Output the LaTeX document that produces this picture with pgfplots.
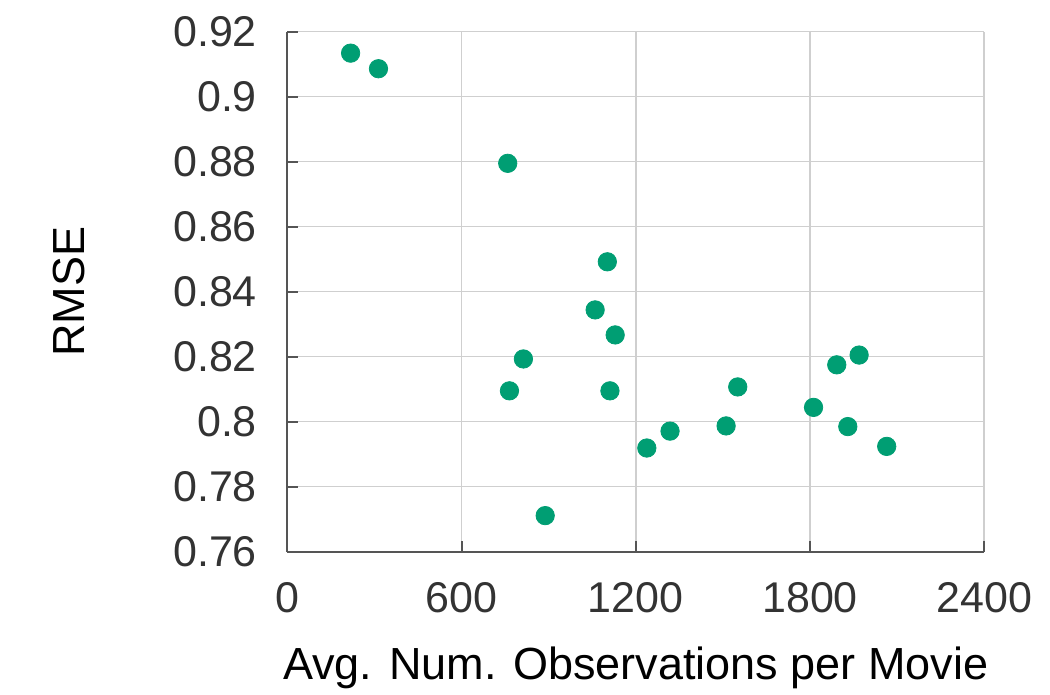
\documentclass[border=0pt]{standalone}
\usepackage{pgfplots}
\pgfplotsset{compat=1.18}
\usepackage{fontspec}
\setmainfont{Liberation Sans}
\definecolor{ptgreen}{HTML}{009E73}
\definecolor{gridgray}{HTML}{CFCFCF}
\definecolor{axgray}{HTML}{555555}
\begin{document}
\begin{tikzpicture}
\useasboundingbox (-143.65pt,-71.65pt) rectangle (381.35pt,275.85pt);
\begin{axis}[
  at={(0,0)}, anchor=south west,
  scale only axis,
  width=348.5pt, height=260pt,
  xmin=0, xmax=2400, ymin=0.76, ymax=0.92,
  xtick={0,600,1200,1800,2400},
  ytick={0.76,0.78,0.80,0.82,0.84,0.86,0.88,0.90,0.92},
  scaled ticks=false,
  /pgf/number format/1000 sep={},
  /pgf/number format/assume math mode=true,
  axis lines=left,
  axis line style={-, draw=axgray, line width=1pt},
  tick align=inside,
  major tick length=5.5pt,
  tick style={draw=axgray, line width=1pt},
  grid=major,
  major grid style={draw=gridgray, line width=0.8pt},
  ticklabel style={font=\fontsize{21.5}{25}\selectfont, text=black!80},
  yticklabel style={anchor=east, inner sep=0pt, xshift=-15pt},
  xticklabel style={anchor=north, inner sep=0pt, yshift=-15pt},
  label style={font=\fontsize{22.5}{26}\selectfont},
  xlabel={Avg. Num. Observations per Movie},
  xlabel style={at={(axis description cs:0.5,0)}, anchor=base, inner sep=0pt, yshift=-64pt},
  ylabel={RMSE},
  ylabel style={at={([xshift=-109pt]axis description cs:0,0.5)}, anchor=center, inner sep=0pt},
  clip=false,
]
\addplot[only marks, mark=*, mark size=4.6pt, draw=ptgreen, fill=ptgreen] coordinates {
(218,0.9134) (314,0.9086) (759,0.8795) (1102,0.8492) (1060,0.8344)
(1129,0.8267) (813,0.8193) (765,0.8095) (1111,0.8095) (888,0.7711)
(1238,0.7919) (1318,0.7971) (1511,0.7987) (1551,0.8107) (1969,0.8205)
(1892,0.8175) (1812,0.8044) (1930,0.7985) (2064,0.7924)
};
\end{axis}
\end{tikzpicture}
\end{document}
